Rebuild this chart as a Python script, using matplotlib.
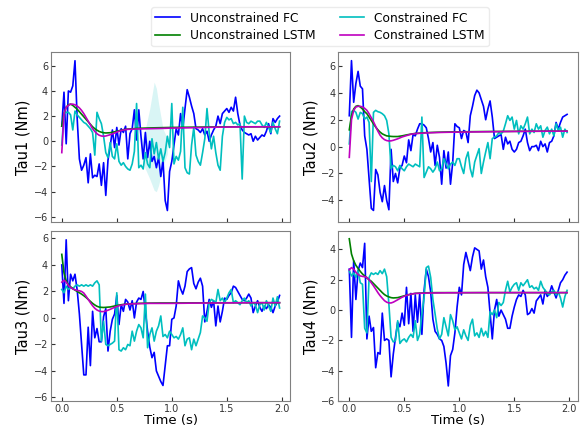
import numpy as np
import matplotlib
matplotlib.use("Agg")
import matplotlib.pyplot as plt

# time axis of the FC runs (0 .. 1.98 s, 0.02 s step)
time = np.round(np.arange(0, 2.0, 0.02), 2)
# time stamps at which the smooth LSTM curves were read
t_lstm = [0, .02, .04, .06, .08, .1, .12, .14, .16, .18, .2, .22, .24, .26, .28, .3, .32, .34,
          .36, .38, .4, .44, .48, .52, .56, .6, .7, .8, .9, 1.0, 1.2, 1.4, 1.6, 1.8, 1.98]

labels = ["Tau1 (Nm)", "Tau2 (Nm)", "Tau3 (Nm)", "Tau4 (Nm)"]

tau1_fc = [1.2, 3.9, -0.2, 4.0, 3.9, 4.4, 6.4, 1.8, -1.4, -2.3,
           -1.9, -1.3, -3.3, -1.0, -2.9, -2.7, -2.8, -1.8, -3.5, -1.7,
           -4.3, -1.5, -0.4, 0.9, -0.5, 1.1, -0.3, 1.0, 0.7, 1.2,
           -1.4, 0.6, 1.0, 2.5, 0.1, 2.5, 0.4, -1.4, 0.7, -1.3,
           0.0, -1.6, -1.2, -2.1, -1.3, -2.8, -1.5, -4.7, -5.5, -2.4,
           -1.6, -0.3, 1.0, 0.5, 2.2, 1.0, 2.6, 4.1, 3.5, 2.8,
           2.2, 1.0, 0.9, 0.7, 1.0, 0.5, 0.8, 0.0, 0.5, 0.9,
           1.2, 2.0, 1.4, 2.2, 2.4, 2.6, 2.3, 2.7, 2.4, 3.5,
           2.2, 1.3, 0.9, 0.7, 0.6, 0.5, 0.6, 0.0, 0.4, 0.1,
           0.3, 0.5, 0.4, 0.8, 1.4, 0.6, 1.8, 1.5, 1.8, 2.0]
tau1_fc_c = [-0.3, 2.2, 2.3, 2.3, 2.1, 0.9, 2.4, 2.1, 1.9, 1.7,
             1.5, 1.4, 1.2, 1.0, 0.7, -1.1, 2.3, 1.8, 1.4, 0.4,
             -0.9, -1.3, -0.1, -1.2, -1.4, -0.2, -1.6, -1.9, -1.7, -2.0,
             -2.2, -2.3, -1.8, -0.8, 3.0, -2.1, -1.9, -2.2, -0.9, -1.8,
             -2.1, 0.2, -1.0, -0.1, -1.4, -0.6, -1.6, -0.9, 0.4, -0.5,
             3.0, -1.8, -1.2, -1.5, -0.8, 2.7, -2.1, -2.5, -2.6, -0.3,
             1.1, -1.1, -1.6, -1.9, -0.9, 0.2, 2.6, 0.7, -0.6, 0.4,
             -0.9, -1.9, -2.3, 0.4, 1.5, 1.9, 1.7, 1.8, 1.4, 1.5,
             1.3, 1.4, -3.0, 2.0, 1.5, 1.4, 1.6, 1.5, 1.4, 1.6,
             1.6, 1.3, 1.1, 1.5, 1.1, 0.7, 1.5, 1.0, 0.6, 1.6]
tau1_lstm = [1.2, 2.2, 2.7, 2.9, 2.95, 2.85, 2.7, 2.55, 2.35, 2.15, 1.95, 1.75, 1.55, 1.35, 1.15,
             1.0, 0.88, 0.78, 0.72, 0.68, 0.66, 0.68, 0.75, 0.84, 0.92, 0.97, 1.03, 1.06, 1.08,
             1.1, 1.12, 1.14, 1.15, 1.15, 1.15]
tau1_lstm_c = [-0.9, 2.2, 2.7, 2.85, 2.95, 2.95, 2.9, 2.8, 2.65, 2.45, 2.2, 1.9, 1.6, 1.3, 1.0,
               0.78, 0.6, 0.48, 0.42, 0.4, 0.42, 0.52, 0.66, 0.8, 0.9, 0.95, 0.98, 1.0, 1.02,
               1.05, 1.08, 1.12, 1.14, 1.15, 1.15]

tau2_fc = [2.3, 6.4, 3.3, 4.7, 5.6, 4.5, 4.3, 0.8, -0.2, -2.4,
           -4.6, -4.75, -1.7, -2.1, -3.4, -4.1, -2.9, -4.0, -4.7, -0.2,
           -2.6, -2.0, -2.7, -1.6, -1.4, -0.7, -1.2, 0.5, -0.3, 0.9,
           0.8, 1.3, 1.7, 1.7, 1.6, 1.4, 0.6, -0.4, 0.3, -1.4,
           0.1, -0.8, -2.8, -0.3, -1.6, -0.4, -2.8, -1.2, 1.7, 1.5,
           1.4, 0.6, 1.2, 1.1, 0.3, 2.3, 3.0, 3.8, 4.2, 4.0,
           3.5, 3.0, 2.0, 2.8, 3.4, 2.2, 0.6, 0.7, 0.8, 0.9,
           -0.2, 0.7, 0.2, 0.4, -0.2, -0.4, -0.2, 0.3, 0.4, 0.8,
           1.3, 0.3, -0.3, 0.0, 0.0, 0.1, -0.3, 0.4, 0.0, 0.2,
           -0.4, 0.3, 0.4, 0.8, 1.8, 1.3, 1.8, 2.2, 2.3, 2.4]
tau2_fc_c = [0.2, 2.6, 2.7, 2.55, 2.05, 2.55, 2.45, 2.05, 2.2, 1.8,
             -2.6, 2.55, 2.7, 2.6, 2.55, 2.45, 2.3, 1.95, 0.95, -1.65,
             -1.4, -1.5, -1.8, -1.4, -1.65, -1.8, -1.5, -1.3, -1.4, -1.5,
             -1.3, -1.4, -1.5, 2.2, -2.3, -1.9, -1.5, -1.65, -1.9, -1.65,
             -1.15, -1.8, -1.65, -0.9, -1.3, -1.65, -1.3, -1.15, -1.4, -0.9,
             -0.9, -1.5, -2.0, -0.9, -0.4, -1.65, -2.25, -1.15, -0.65, -0.15,
             -2.0, -1.15, -0.4, 0.3, -0.9, 0.6, 0.7, 0.8, 1.05, 0.95,
             1.15, 1.7, 2.3, 1.95, 2.2, 1.3, 1.95, 0.95, 1.55, 1.3,
             1.7, 2.2, 0.95, 1.3, 1.05, 1.7, 1.3, 1.55, 0.7, 1.2,
             1.45, 0.95, 1.3, 0.8, 1.7, 1.2, 1.45, 0.7, 1.3, 1.05]
tau2_lstm = [1.25, 2.3, 2.8, 3.0, 3.05, 2.95, 2.8, 2.6, 2.45, 2.2, 1.95, 1.7, 1.45, 1.25, 1.08,
             0.95, 0.87, 0.8, 0.78, 0.76, 0.75, 0.75, 0.8, 0.87, 0.93, 0.98, 1.04, 1.07, 1.09,
             1.1, 1.12, 1.13, 1.14, 1.15, 1.15]
tau2_lstm_c = [-0.8, 2.0, 2.7, 2.95, 3.0, 3.0, 2.95, 2.85, 2.7, 2.45, 2.15, 1.85, 1.5, 1.15, 0.85,
               0.65, 0.52, 0.45, 0.42, 0.43, 0.47, 0.58, 0.72, 0.82, 0.92, 0.97, 1.02, 1.05, 1.07,
               1.08, 1.1, 1.12, 1.14, 1.15, 1.15]

tau3_fc = [4.0, 1.1, 5.9, 1.3, 3.3, 2.8, 3.3, 2.1, 0.3, -2.0,
           -4.3, -4.3, -0.7, -3.6, 0.5, -1.5, -0.8, -1.8, -1.8, 0.1,
           0.7, -2.5, -1.0, -0.1, 0.3, 1.7, -0.5, 1.0, 0.5, 1.4,
           1.2, 0.6, 1.3, 0.0, 1.2, 1.5, 1.4, 2.0, 0.5, -1.0,
           -2.2, -3.0, -2.6, -4.0, -4.4, -4.8, -5.1, -3.6, -2.1, -2.1,
           -0.1, 0.0, 0.9, 2.8, 2.2, 1.8, 2.4, 3.5, 3.7, 3.8,
           2.6, 2.2, 2.7, 3.0, 2.4, -0.3, 0.5, 1.4, 0.8, 1.3,
           -0.6, 0.9, -0.3, 0.5, 1.5, 1.4, 1.7, 1.9, 2.4, 2.3,
           2.0, 1.7, 1.4, 1.3, 1.5, 1.8, 1.5, 0.4, 0.9, 1.3,
           0.8, 0.5, 0.9, 0.7, 1.0, 0.8, 0.4, 0.9, 1.2, 1.7]
tau3_fc_c = [2.15, 1.9, 2.4, 2.15, 2.3, 2.2, 2.4, 2.5, 2.4, 2.5,
             2.4, 2.5, 2.4, 2.5, 2.4, 2.65, 2.8, 2.5, -1.75, -0.25,
             -2.0, -2.1, -2.0, -1.9, -1.75, 1.9, -2.4, -2.5, -2.25, -2.4,
             -2.0, -2.1, -1.0, -1.75, -1.0, -0.5, -0.75, -1.5, 1.8, -2.25,
             -1.25, -0.75, -1.75, -1.0, -0.6, 0.15, -1.4, -1.25, -1.5, -1.0,
             -1.25, -1.5, -1.4, -1.6, -1.25, -0.75, -2.1, -1.6, -1.5, -2.4,
             -1.6, -2.1, -1.6, -1.1, 0.15, 0.0, -0.25, 1.15, 1.4, 1.3,
             1.15, 2.15, 1.3, 1.5, 1.15, 1.5, 1.9, 2.15, 1.15, 1.3,
             1.15, 1.0, 1.3, 1.5, 1.15, 1.3, 0.9, 1.15, 1.0, 0.4,
             1.0, 1.15, 0.6, 1.3, 0.9, 0.5, 1.5, 0.9, 1.6, 0.75]
tau3_lstm = [4.8, 3.4, 2.8, 2.5, 2.35, 2.22, 2.1, 2.0, 1.9, 1.8, 1.68, 1.55, 1.4, 1.25, 1.1,
             0.98, 0.88, 0.82, 0.8, 0.79, 0.8, 0.83, 0.9, 0.97, 1.02, 1.06, 1.1, 1.12, 1.13,
             1.13, 1.14, 1.14, 1.15, 1.15, 1.15]
tau3_lstm_c = [2.7, 2.85, 2.7, 2.45, 2.3, 2.2, 2.12, 2.08, 2.05, 2.0, 1.88, 1.65, 1.4, 1.15, 0.92,
               0.73, 0.6, 0.52, 0.48, 0.48, 0.52, 0.65, 0.8, 0.92, 1.0, 1.05, 1.08, 1.1, 1.1,
               1.1, 1.12, 1.13, 1.14, 1.15, 1.15]

tau4_fc = [2.7, -1.8, 3.25, 0.7, 2.6, 3.1, 2.8, 4.4, -1.9, -0.4,
           -1.4, -1.15, -3.8, -2.8, -2.9, -0.2, -2.0, -1.9, -2.0, -4.4,
           -2.9, -1.8, -0.8, -1.1, -0.2, -1.0, 1.5, -0.9, 1.1, -1.4,
           1.0, -0.8, 1.1, -1.6, 1.3, 2.7, 2.2, 1.2, -0.6, -1.4,
           -1.6, -1.9, -2.0, -2.4, -3.5, -5.0, -3.0, -2.6, -1.5, 0.2,
           1.5, 1.0, 3.0, 3.8, 3.2, 2.6, 3.5, 4.1, 4.0, 3.9,
           2.7, 3.3, 2.2, 1.5, -0.2, -1.9, 0.0, 0.7, -0.4, 0.0,
           -0.3, -0.6, -1.2, -1.2, -0.4, 0.2, 0.7, 1.0, 0.9, 1.3,
           1.0, -0.3, -0.2, 0.1, -0.2, 0.6, 0.8, 1.0, 0.4, 1.3,
           0.9, 1.1, 1.6, 1.2, 0.8, 1.3, 1.8, 2.0, 2.3, 2.5]
tau4_fc_c = [2.6, 2.25, 2.45, 2.15, 2.6, 1.8, 1.7, -1.2, -1.5, 2.15,
             2.45, 2.35, 2.45, 2.35, 2.6, 2.4, 2.7, 2.2, 0.4, -1.8,
             -2.1, -2.0, -0.7, -2.2, -2.0, -1.9, -2.1, -1.8, -1.6, -1.8,
             -0.7, -2.0, -1.6, -0.25, 0.8, 2.8, 2.9, 2.15, 0.7, -0.25,
             -1.25, -1.9, -1.6, -0.5, -1.1, -1.7, -0.3, -0.7, -1.3, -1.1,
             -1.5, -1.9, -1.3, -1.7, -2.0, -1.0, -0.6, -1.7, -1.5, -1.8,
             -1.2, -1.7, -1.4, -1.8, -0.1, -0.3, 0.0, -0.5, 0.5, 0.3,
             0.5, 1.3, 1.9, 1.2, 1.5, 1.7, 1.8, 1.3, 1.8, 1.6,
             1.8, 2.0, 1.5, 1.6, 1.4, 1.5, 1.3, 1.9, 1.5, 1.3,
             1.1, 1.0, 1.2, 1.3, 1.0, 1.2, 0.8, 0.2, 0.9, 1.3]
tau4_lstm = [4.7, 3.7, 3.25, 2.95, 2.75, 2.55, 2.38, 2.25, 2.12, 2.0, 1.9, 1.75, 1.6, 1.45, 1.3,
             1.15, 1.02, 0.93, 0.87, 0.82, 0.8, 0.82, 0.9, 0.98, 1.05, 1.1, 1.14, 1.15, 1.15,
             1.15, 1.15, 1.15, 1.15, 1.15, 1.15]
tau4_lstm_c = [2.65, 2.8, 2.7, 2.5, 2.35, 2.25, 2.22, 2.2, 2.15, 2.0, 1.8, 1.6, 1.38, 1.15, 0.95,
               0.78, 0.62, 0.52, 0.47, 0.47, 0.52, 0.68, 0.85, 0.97, 1.05, 1.1, 1.12, 1.13, 1.14,
               1.14, 1.15, 1.15, 1.15, 1.15, 1.15]

# spread of the constrained FC runs in Tau1 around t = 0.85 s
band_t = [0.72, 0.76, 0.80, 0.84, 0.86, 0.88, 0.92, 0.96]
band_lo = [-1.2, -2.2, -3.0, -3.9, -4.0, -3.5, -2.0, -1.0]
band_hi = [0.0, 1.0, 2.6, 4.7, 4.2, 3.0, 1.0, 0.2]

fc = [tau1_fc, tau2_fc, tau3_fc, tau4_fc]
fc_c = [tau1_fc_c, tau2_fc_c, tau3_fc_c, tau4_fc_c]
lstm = [tau1_lstm, tau2_lstm, tau3_lstm, tau4_lstm]
lstm_c = [tau1_lstm_c, tau2_lstm_c, tau3_lstm_c, tau4_lstm_c]
ylims = [(-6.4, 7.1), (-5.6, 7.05), (-6.28, 6.55), (-6.0, 5.2)]
yticks = [np.arange(-6, 7, 2), np.arange(-4, 7, 2), np.arange(-6, 7, 2), np.arange(-6, 5, 2)]

fig, axes = plt.subplots(2, 2, figsize=(5.85, 4.29), dpi=100, sharex=True)
fig.subplots_adjust(left=0.087, right=0.988, top=0.879, bottom=0.065, wspace=0.2, hspace=0.055)

for i, ax in enumerate(axes.flat):
    if i == 0:
        ax.fill_between(band_t, band_lo, band_hi, color='c', alpha=0.15, lw=0)
    h1, = ax.plot(time, fc[i], color='b', lw=1.2)
    h3, = ax.plot(time, fc_c[i], color='c', lw=1.2)
    h2, = ax.plot(t_lstm, lstm[i], color='g', lw=1.2)
    h4, = ax.plot(t_lstm, lstm_c[i], color='m', lw=1.2)
    ax.set_ylim(ylims[i])
    ax.set_yticks(yticks[i])
    ax.set_ylabel(labels[i], fontsize=10.5, labelpad=2)
    ax.tick_params(direction='in', length=3, pad=2, labelsize=7, colors='#333333')
    for s in ax.spines.values():
        s.set_color('#808080')
    if i >= 2:
        ax.set_xlabel("Time (s)", fontsize=9.5, labelpad=0)

axes[1, 0].set_xticks([0.0, 0.5, 1.0, 1.5, 2.0])

fig.legend([h1, h2, h3, h4],
           ["Unconstrained FC", "Unconstrained LSTM", "Constrained FC", "Constrained LSTM"],
           loc='upper center', bbox_to_anchor=(0.547, 0.997), ncol=2, fontsize=8.8,
           columnspacing=2.0, labelspacing=0.35, borderpad=0.35, edgecolor='0.9',
           frameon=True)

plt.savefig("out.png", dpi=100)
